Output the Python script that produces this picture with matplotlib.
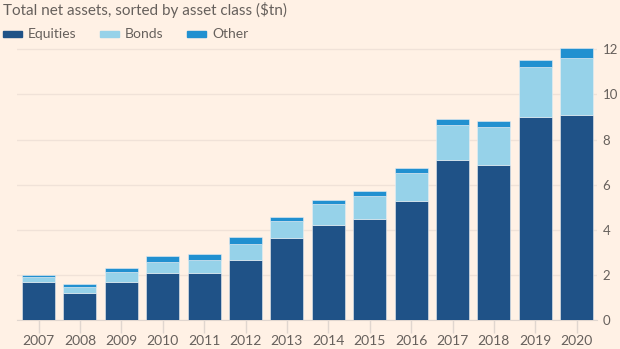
import matplotlib
matplotlib.use("Agg")
import matplotlib.pyplot as plt
from matplotlib.patches import Rectangle

years = ["2007", "2008", "2009", "2010", "2011", "2012", "2013",
         "2014", "2015", "2016", "2017", "2018", "2019", "2020"]
equities = [1.67, 1.18, 1.68, 2.07, 2.07, 2.66, 3.62, 4.20, 4.48, 5.26, 7.08, 6.86, 8.98, 9.07]
bonds = [0.24, 0.28, 0.43, 0.50, 0.59, 0.71, 0.75, 0.93, 1.03, 1.24, 1.58, 1.71, 2.25, 2.53]
other = [0.09, 0.12, 0.19, 0.25, 0.27, 0.29, 0.21, 0.19, 0.19, 0.22, 0.25, 0.25, 0.29, 0.44]
series_names = ["Equities", "Bonds", "Other"]

bg = "#fff1e5"
c_eq = "#1f5287"
c_bd = "#96d2e9"
c_ot = "#2190d0"
txt = "#66605c"

plt.rcParams['font.family'] = ['Lato', 'DejaVu Sans']

W, H = 620, 349
fig = plt.figure(figsize=(6.2, 3.49), dpi=100)
fig.patch.set_facecolor(bg)
ax = fig.add_axes([17/W, 29/H, 580/W, 273/H])
ax.set_facecolor(bg)

x = list(range(len(years)))
bot2 = [e + b for e, b in zip(equities, bonds)]
kw = dict(width=0.8, edgecolor="#e8eef2", linewidth=0.4, zorder=3)
ax.bar(x, equities, color=c_eq, **kw)
ax.bar(x, bonds, bottom=equities, color=c_bd, **kw)
ax.bar(x, other, bottom=bot2, color=c_ot, **kw)

ax.set_xlim(-0.52, 13.49)
ax.set_ylim(0, 12.1)
ax.set_yticks([0, 2, 4, 6, 8, 10, 12])
ax.yaxis.tick_right()
ax.grid(axis="y", color="#f0e2d8", linewidth=1, zorder=0)
ax.set_xticks(x)
ax.set_xticklabels(years)
for s in ["top", "left", "right"]:
    ax.spines[s].set_visible(False)
ax.spines["bottom"].set_color("#e0d6cf")
ax.tick_params(axis="x", colors="#e0d6cf", length=9, width=1, labelcolor=txt,
               labelsize=10, pad=2)
ax.tick_params(axis="y", length=0, labelcolor=txt, labelsize=9.5, pad=4)

fig.text(3/W, 1 - 10/H, "Total net assets, sorted by asset class ($tn)",
         color=txt, fontsize=11, va="center", ha="left")

# legend drawn by hand to match spacing
leg_x = [3, 100, 187]
leg_c = [c_eq, c_bd, c_ot]
for lx, lc, name in zip(leg_x, leg_c, series_names):
    fig.patches.append(Rectangle((lx/W, 1 - 37/H), 19/W, 6/H, color=lc,
                                 transform=fig.transFigure, figure=fig))
    fig.text((lx + 25)/W, 1 - 34/H, name, color=txt, fontsize=10,
             va="center", ha="left")

fig.savefig("out.png", dpi=100, facecolor=bg)
